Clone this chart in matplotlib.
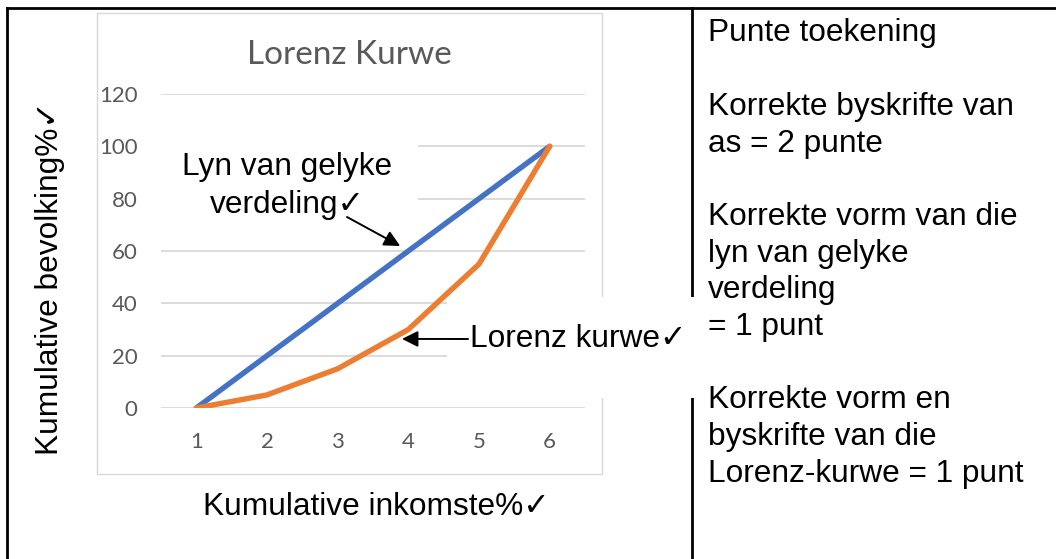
import matplotlib
matplotlib.use("Agg")
import matplotlib.pyplot as plt
from matplotlib.patches import Rectangle
from matplotlib.lines import Line2D

# data
kategoriee = ["1", "2", "3", "4", "5", "6"]
gelyke_verdeling = [0, 20, 40, 60, 80, 100]
lorenz_kurwe = [0, 5, 15, 30, 55, 100]
y_ticks = [0, 20, 40, 60, 80, 100, 120]

punte_teks = [
    "Punte toekening",
    "",
    "Korrekte byskrifte van",
    "as = 2 punte",
    "",
    "Korrekte vorm van die",
    "lyn van gelyke",
    "verdeling",
    "= 1 punt",
    "",
    "Korrekte vorm en",
    "byskrifte van die",
    "Lorenz-kurwe = 1 punt",
]

W, H = 1056, 559
ARIAL = ["Liberation Sans", "DejaVu Sans"]
CALIBRI = ["Lato", "DejaVu Sans"]
BLUE = "#4472C4"
ORANGE = "#ED7D31"
GRID = "#D9D9D9"
GREY = "#595959"


def fx(x):
    return x / W


def fy(y):
    return 1 - y / H


fig = plt.figure(figsize=(W / 100, H / 100), dpi=100)
fig.patch.set_facecolor("white")

# plot area (pixels: x 161..585, y 94..408)
ax = fig.add_axes([fx(161), fy(408), fx(585 - 161), (408 - 94) / H])
ax.set_facecolor("none")
for s in ax.spines.values():
    s.set_visible(False)

x = list(range(1, len(kategoriee) + 1))
for t in y_ticks:
    ax.axhline(t, color=GRID, lw=1.3, zorder=0.5)

ax.plot(x, gelyke_verdeling, color=BLUE, lw=3.9, solid_capstyle="round",
        solid_joinstyle="round", zorder=2)
ax.plot(x, lorenz_kurwe, color=ORANGE, lw=3.9, solid_capstyle="round",
        solid_joinstyle="round", zorder=2)

ax.set_xlim(0.5, 6.5)
ax.set_ylim(0, 120)
ax.set_xticks(x)
ax.set_xticklabels(kategoriee)
ax.set_yticks(y_ticks)
ax.tick_params(length=0, labelsize=16, labelcolor=GREY)
ax.tick_params(axis="y", pad=17)
ax.tick_params(axis="x", pad=17)
for lab in ax.get_xticklabels() + ax.get_yticklabels():
    lab.set_family(CALIBRI)

tf = fig.transFigure

# chart frame
ax.add_patch(Rectangle((fx(97), fy(474)), fx(602 - 97), (474 - 13) / H,
                       transform=tf, fill=False, ec=GRID, lw=1.0,
                       clip_on=False, zorder=0.4))

# table lines
for xs, ys in [([7, W], [8, 8]), ([7, 7], [8, H]), ([692, 692], [8, H])]:
    ax.add_line(Line2D([fx(v) for v in xs], [fy(v) for v in ys], transform=tf,
                       color="black", lw=2.0, clip_on=False, zorder=0.6))

# white text boxes hiding grid/lines behind
ax.add_patch(Rectangle((fx(150), fy(228)), fx(418 - 150), (228 - 112) / H,
                       transform=tf, fc="white", ec="none", clip_on=False,
                       zorder=1))
ax.add_patch(Rectangle((fx(447), fy(398)), fx(702 - 447), (398 - 297) / H,
                       transform=tf, fc="white", ec="none", clip_on=False,
                       zorder=1))

# title
fig.text(fx(349), fy(55), "Lorenz Kurwe", ha="center", va="center",
         fontsize=24, color=GREY, family=CALIBRI)

# axis labels
fig.text(fx(376), fy(515), "Kumulative inkomste%\u2713", ha="center",
         va="baseline", fontsize=22.8, family=ARIAL)
fig.text(fx(50), fy(278), "Kumulative bevolking%\u2713", ha="center",
         va="center", rotation=90, fontsize=22.8, family=ARIAL)

# annotations
fig.text(fx(287), fy(175), "Lyn van gelyke", ha="center", va="baseline",
         fontsize=22.8, family=ARIAL, zorder=4)
fig.text(fx(287), fy(213), "verdeling\u2713", ha="center", va="baseline",
         fontsize=22.8, family=ARIAL, zorder=4)
fig.text(fx(470), fy(347), "Lorenz kurwe\u2713", ha="left", va="baseline",
         fontsize=22.8, family=ARIAL, zorder=4)

ax.annotate("", xy=(3.885, 61.9), xycoords="data",
            xytext=(fx(347), fy(217)), textcoords="figure fraction",
            arrowprops=dict(arrowstyle="-|>", color="black", lw=1.4,
                            mutation_scale=24, shrinkA=0, shrinkB=0),
            annotation_clip=False, zorder=4)
ax.annotate("", xy=(3.91, 26.4), xycoords="data",
            xytext=(fx(468), fy(339)), textcoords="figure fraction",
            arrowprops=dict(arrowstyle="-|>", color="black", lw=1.4,
                            mutation_scale=24, shrinkA=0, shrinkB=0),
            annotation_clip=False, zorder=4)

# right column
for i, line in enumerate(punte_teks):
    if line:
        fig.text(fx(708), fy(41.5 + 36.7 * i), line, ha="left", va="baseline",
                 fontsize=22.8, family=ARIAL)

fig.savefig("out.png", dpi=100)
